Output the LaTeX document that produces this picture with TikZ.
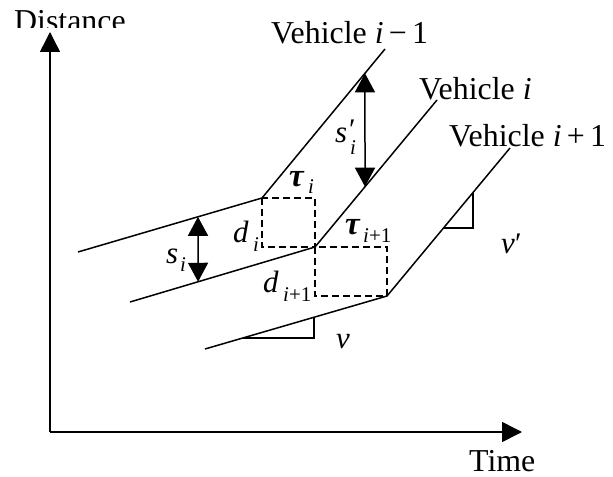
\documentclass[tikz,border=0pt]{standalone}
\usepackage{fontspec}
\setmainfont{Liberation Serif}
\usetikzlibrary{arrows.meta,calc}
\begin{document}
\begin{tikzpicture}[x=1bp,y=-1bp,
  line/.style={line width=1.5bp},
  axis/.style={line width=1.5bp,-{Triangle[length=20bp,width=20bp]}},
  gap/.style={line width=1.5bp,{Triangle[length=19bp,width=20bp]}-{Triangle[length=19bp,width=20bp]}},
  box/.style={line width=1.3bp,dash pattern=on 7bp off 4bp},
  lbl/.style={inner sep=0pt,anchor=base west,font=\fontsize{32}{36}\selectfont},
  mth/.style={inner sep=0pt,anchor=base west,font=\fontsize{31}{34}\selectfont\itshape},
  tau/.style={inner sep=0pt,anchor=base west,font=\fontsize{33}{36}\selectfont\bfseries\itshape},
  sub/.style={inner sep=0pt,anchor=base west,font=\fontsize{21}{23}\selectfont\itshape},
  prm/.style={inner sep=0pt,anchor=base west,font=\fontsize{30}{32}\selectfont}]
\useasboundingbox (0,0) rectangle (613,477);
\clip (0,0) rectangle (613,477);
% axes
\coordinate (O) at (50,432);
\coordinate (Ytip) at (50,32);
\coordinate (Xtip) at (522,432);
\draw[axis] (O) -- (Ytip);
\draw[axis] (O) -- (Xtip);
\begin{scope}
  \clip (0,0) rectangle (200,28);
  \node[lbl] (dist) at (14,32) {Distance};
\end{scope}
\node[lbl] (time) at (469,471) {Time};
% trajectories
\coordinate (A1) at (78,252);  \coordinate (K1) at (262,198); \coordinate (E1) at (385,49);
\coordinate (A2) at (130,302); \coordinate (K2) at (315,247); \coordinate (E2) at (437,100);
\coordinate (A3) at (205,349); \coordinate (K3) at (387,296); \coordinate (E3) at (510,148);
\draw[line] (A1) -- (K1) -- (E1);
\draw[line] (A2) -- (K2) -- (E2);
\draw[line] (A3) -- (K3) -- (E3);
% dashed boxes
\draw[box] (K1) rectangle (K2);
\draw[box] (K2) rectangle (K3);
% spacing arrows
\coordinate (S1a) at ($(A1)!0.652!(K1)$);
\coordinate (S1b) at ($(A2)!0.368!(K2)$);
\draw[gap] (S1a) -- (S1b);
\coordinate (S2a) at ($(K1)!0.837!(E1)$);
\coordinate (S2b) at ($(K2)!0.41!(E2)$);
\draw[gap] (S2a) -- (S2b);
% slope triangles
\coordinate (P1) at ($(A3)!0.209!(K3)$);
\coordinate (P2) at ($(A3)!0.599!(K3)$);
\draw[line,line width=1.3bp] (P1) -- (P2 |- P1) -- (P2);
\coordinate (Q1) at ($(K3)!0.699!(E3)$);
\coordinate (Q2) at ($(K3)!0.459!(E3)$);
\draw[line,line width=1.3bp] (Q1) -- (Q1 |- Q2) -- (Q2);
% vehicle labels
\node[lbl] (v1) at (271,44) {Vehicle \textit{i}\,−\,1};
\node[lbl] (v2) at (419,100) {Vehicle \textit{i}};
\node[lbl] (v3) at (449,147) {Vehicle \textit{i}\,+\,1};
% math labels
\node[mth] (si) at (166,263) {s};
\node[sub] (sii) at (180,271) {i};
\node[mth] (sp) at (335,143) {s};
\node[prm] (spp) at (349,140) {′};
\node[sub] (spi) at (350,155) {i};
\node[tau] (tau1) at (289,187) {τ};
\node[sub] (tau1i) at (308,194) {i};
\node[tau] (tau2) at (345,235) {τ};
\node[sub] (tau2i) at (363,243) {i\upshape +1};
\node[mth] (d1) at (233,243) {d};
\node[sub] (d1i) at (253,251) {i};
\node[mth] (d2) at (263,292) {d};
\node[sub] (d2i) at (283,301) {i\upshape +1};
\node[mth] (vv) at (336,348) {v};
\node[mth] (vp) at (501,253) {v};
\node[prm] (vpp) at (515,253) {′};
\end{tikzpicture}
\end{document}
